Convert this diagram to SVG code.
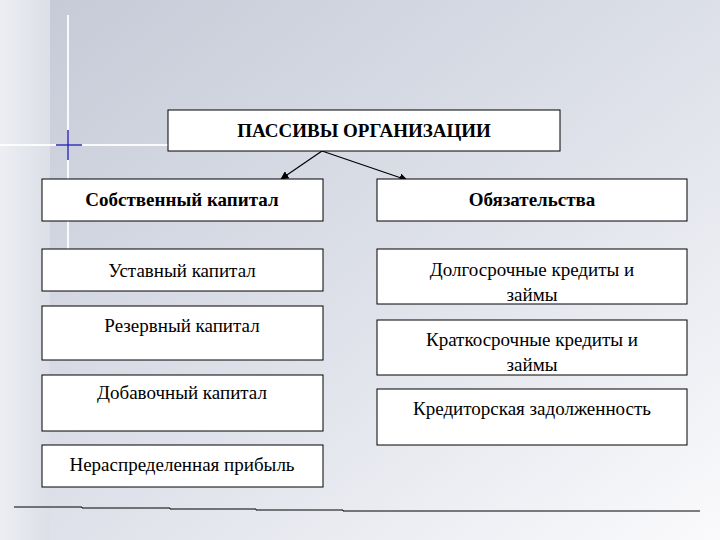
<svg xmlns="http://www.w3.org/2000/svg" width="720" height="540" viewBox="0 0 720 540" font-family="Liberation Serif, DejaVu Serif, Times New Roman, serif">
<defs>
<linearGradient id="bg" x1="0" y1="0" x2="1" y2="1">
<stop offset="0" stop-color="#c4c9d6"/><stop offset="0.55" stop-color="#dfe2ea"/><stop offset="1" stop-color="#fafafc"/>
</linearGradient>
<linearGradient id="strip" x1="0" y1="0" x2="1" y2="0">
<stop offset="0" stop-color="#eceef3"/><stop offset="1" stop-color="#dcdfe7"/>
</linearGradient>
<marker id="ah" viewBox="0 0 10 10" refX="9" refY="5" markerWidth="7" markerHeight="7" orient="auto">
<path d="M0,0 L10,5 L0,10 z" fill="#000"/>
</marker>
</defs>
<style>
.b{fill:#fff;stroke:#000;stroke-width:1}
text{font-family:"Liberation Serif","DejaVu Serif",serif;font-size:19px;text-anchor:middle;fill:#000}
.bold{font-weight:bold}
</style>
<rect width="720" height="540" fill="url(#bg)"/>
<rect width="50" height="540" fill="url(#strip)"/>
<line x1="68" y1="15" x2="68" y2="250" stroke="#fff" stroke-width="2" opacity="0.9"/>
<line x1="0" y1="145" x2="170" y2="145" stroke="#fff" stroke-width="2" opacity="0.9"/>
<line x1="56" y1="145" x2="82" y2="145" stroke="#2828b0" stroke-width="1.5"/>
<line x1="68" y1="130" x2="68" y2="160" stroke="#2828b0" stroke-width="1.5"/>
<g id="bottomline" stroke="#000" stroke-width="1">
<polyline points="14,507 82,507 82,508 170,508 170,509 256,509 256,510 343,510 343,511 700,511" fill="none"/>
</g>
<g id="connectors" stroke="#000" stroke-width="1.2" fill="none">
<line x1="322" y1="151" x2="281" y2="179" marker-end="url(#ah)"/>
<line x1="322" y1="151" x2="407" y2="180" marker-end="url(#ah)"/>
</g>
<g id="title"><rect class="b" x="168" y="110" width="392" height="41"/><text class="bold" font-family="Liberation Serif, serif" x="364" y="137">ПАССИВЫ ОРГАНИЗАЦИИ</text></g>
<g id="own"><rect class="b" x="42" y="179" width="281" height="42"/><text class="bold" font-family="Liberation Serif, serif" x="182" y="206">Собственный капитал</text></g>
<g id="ust"><rect class="b" x="42" y="249" width="281" height="42"/><text font-family="Liberation Serif, serif" x="182" y="277">Уставный капитал</text></g>
<g id="rez"><rect class="b" x="42" y="306" width="281" height="54"/><text font-family="Liberation Serif, serif" x="182" y="332">Резервный капитал</text></g>
<g id="dob"><rect class="b" x="42" y="375" width="281" height="56"/><text font-family="Liberation Serif, serif" x="182" y="399">Добавочный капитал</text></g>
<g id="ner"><rect class="b" x="42" y="445" width="281" height="42"/><text font-family="Liberation Serif, serif" x="182" y="471">Нераспределенная прибыль</text></g>
<g id="obl"><rect class="b" x="377" y="179" width="310" height="42"/><text class="bold" font-family="Liberation Serif, serif" x="532" y="206">Обязательства</text></g>
<g id="dolg"><rect class="b" x="377" y="249" width="310" height="55"/><text font-family="Liberation Serif, serif" x="532" y="276">Долгосрочные кредиты и</text><text font-family="Liberation Serif, serif" x="532" y="301">займы</text></g>
<g id="krat"><rect class="b" x="377" y="320" width="310" height="55"/><text font-family="Liberation Serif, serif" x="532" y="346">Краткосрочные кредиты и</text><text font-family="Liberation Serif, serif" x="532" y="371">займы</text></g>
<g id="kred"><rect class="b" x="377" y="389" width="310" height="56"/><text font-family="Liberation Serif, serif" x="532" y="415">Кредиторская задолженность</text></g>
</svg>
